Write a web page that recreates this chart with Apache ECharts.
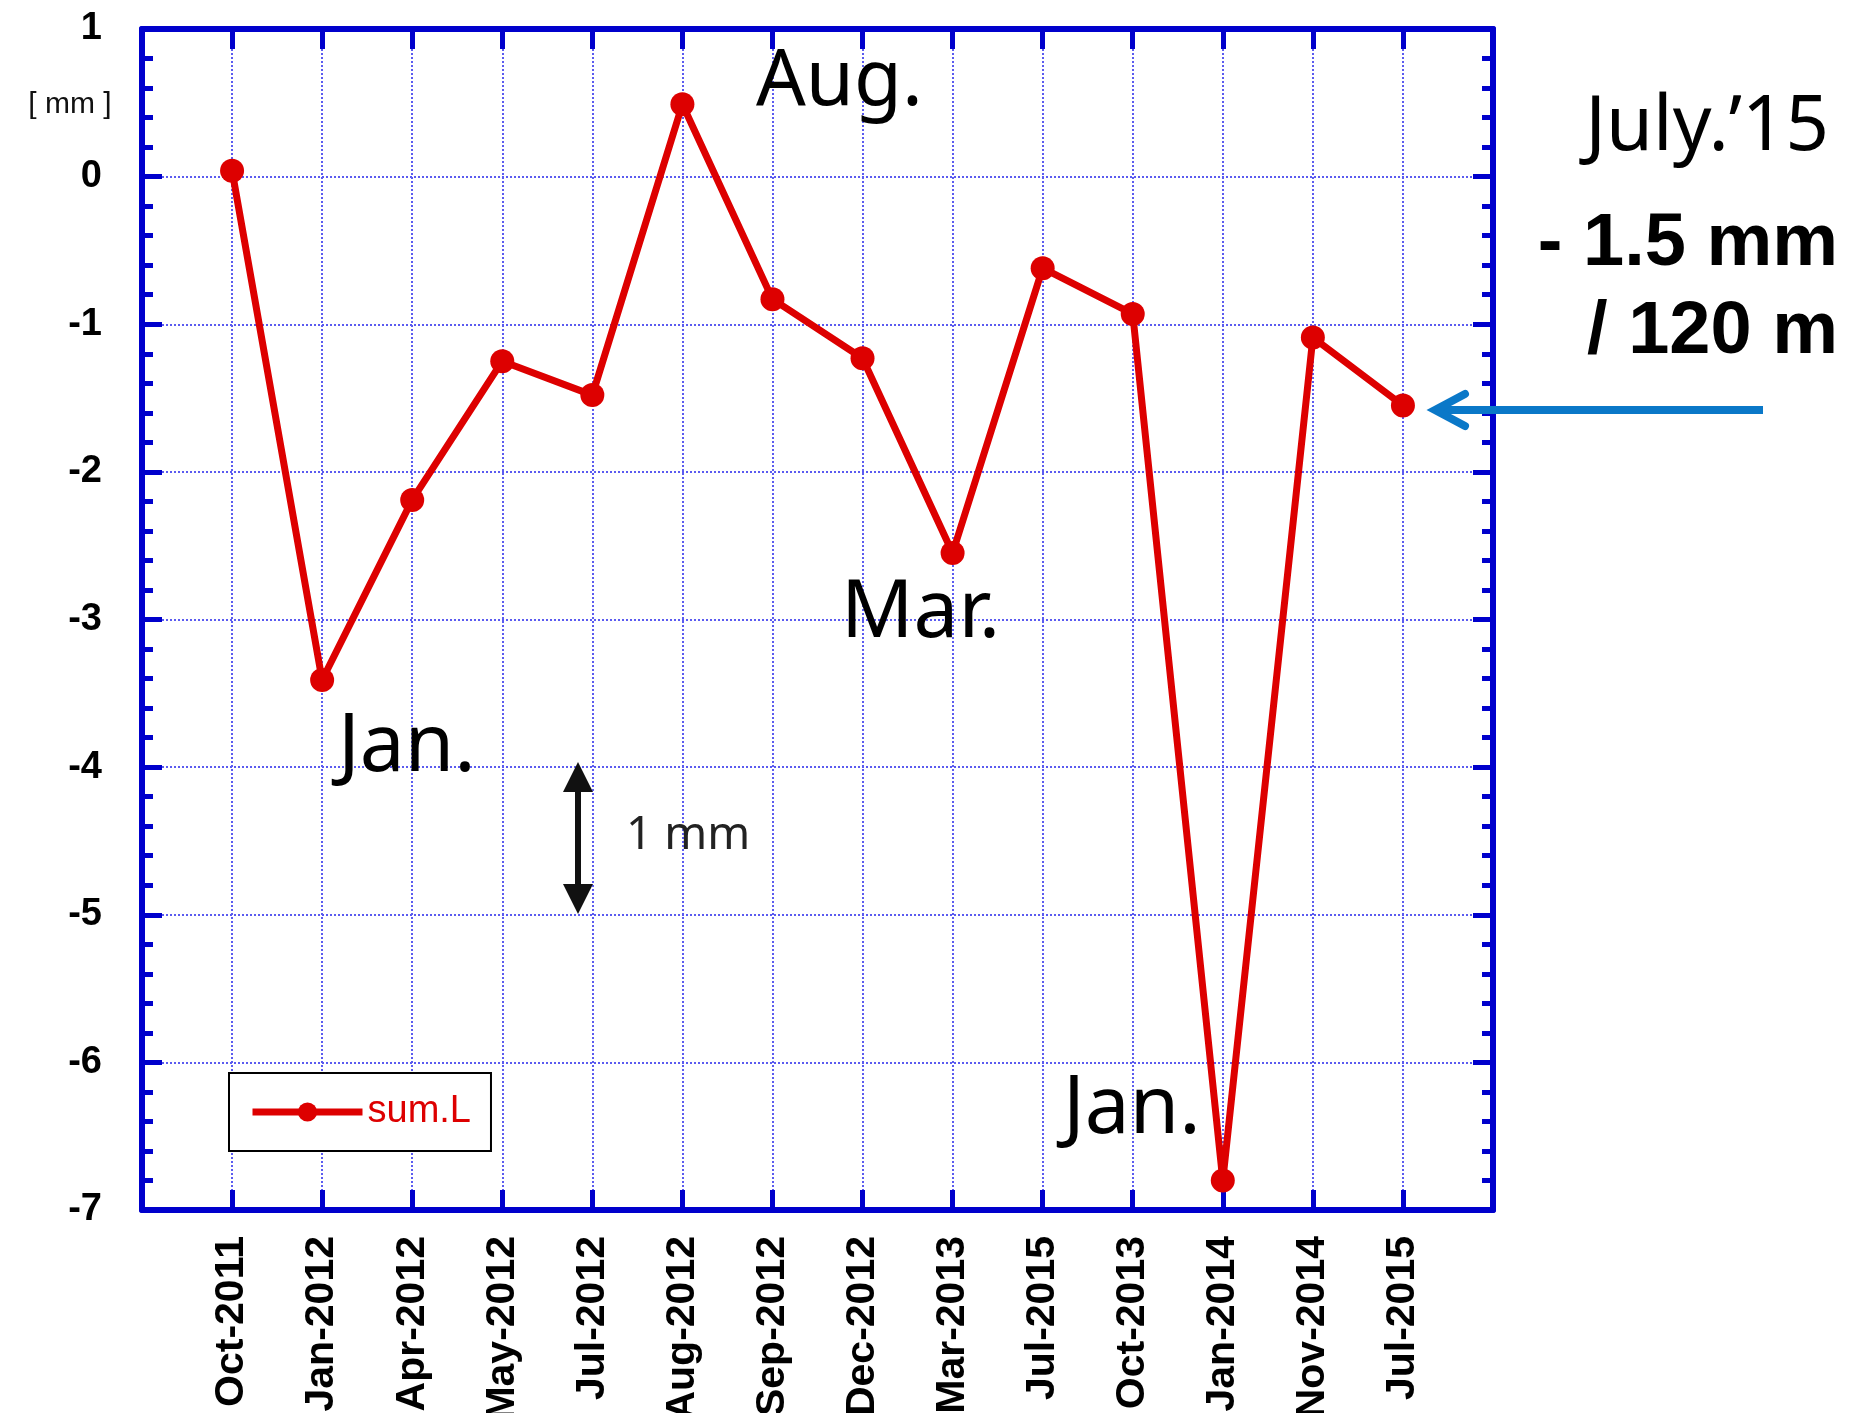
<!DOCTYPE html>
<html>
<head>
<meta charset="utf-8">
<script src="https://cdn.jsdelivr.net/npm/echarts@6/dist/echarts.min.js"></script>
<style>
  html, body { margin: 0; background: #fff; }
  #chart { width: 1862px; height: 1413px; }
</style>
</head>
<body>
<div id="chart"></div>
<script>
// measurement dates (blank slots pad the axis ends)
var categories = ['', 'Oct-2011', 'Jan-2012', 'Apr-2012', 'May-2012', 'Jul-2012', 'Aug-2012',
  'Sep-2012', 'Dec-2012', 'Mar-2013', 'Jul-2015', 'Oct-2013', 'Jan-2014', 'Nov-2014', 'Jul-2015', ''];
// sum.L [mm]
var sumL = [null, 0.04, -3.41, -2.19, -1.25, -1.48, 0.49, -0.83, -1.23, -2.55, -0.62, -0.93, -6.80, -1.09, -1.55, null];
var yMin = -7, yMax = 1;

var blue = '#0000cc';
var grid = { color: '#5b5bf0', width: 2, type: [2, 2] };
var labelFont = 'Liberation Sans';

var chart = echarts.init(document.getElementById('chart'));

function xAxis(pos, showLabel) {
  return {
    type: 'category',
    data: categories,
    boundaryGap: false,
    position: pos,
    axisLine: { onZero: false, lineStyle: { color: blue, width: 6 } },
    axisTick: { inside: true, interval: 0, length: 20, lineStyle: { color: blue, width: 5 } },
    axisLabel: {
      show: showLabel, rotate: 90, interval: 0, margin: 26,
      fontSize: 41, fontWeight: 'bold', color: '#000', fontFamily: labelFont
    },
    splitLine: { show: showLabel, interval: 0, lineStyle: grid }
  };
}
function yAxis(pos, showLabel) {
  return {
    type: 'value',
    min: yMin, max: yMax, interval: 1,
    position: pos,
    axisLine: { show: true, onZero: false, lineStyle: { color: blue, width: 6 } },
    axisTick: { show: true, inside: true, length: 20, lineStyle: { color: blue, width: 5 } },
    minorTick: { show: true, splitNumber: 5, length: 11, lineStyle: { color: blue, width: 5 } },
    axisLabel: {
      show: showLabel, margin: 40,
      fontSize: 38, fontWeight: 'bold', color: '#000', fontFamily: labelFont
    },
    splitLine: { show: showLabel, lineStyle: grid }
  };
}

function txt(s, x, y, size, align, weight, fam, color) {
  return {
    type: 'text', x: x, y: y, z: 100,
    style: {
      text: s, fill: color || '#000',
      fontSize: size, fontWeight: weight || 'normal', fontFamily: fam || 'Noto Sans',
      align: align, textAlign: align, verticalAlign: 'middle', textVerticalAlign: 'middle'
    }
  };
}

var option = {
  animation: false,
  backgroundColor: '#fff',
  grid: { left: 142, top: 29, right: 369, bottom: 203, outerBoundsMode: 'none' },
  xAxis: [xAxis('bottom', true), xAxis('top', false)],
  yAxis: [yAxis('left', true), yAxis('right', false)],
  legend: {
    left: 229, top: 1073,
    backgroundColor: '#fff', borderColor: '#000', borderWidth: 2, borderRadius: 0,
    padding: [20, 20, 20, 20],
    itemWidth: 110, itemHeight: 24,
    lineStyle: { width: 7 },
    textStyle: { color: '#dd0000', fontSize: 38, fontFamily: labelFont },
    data: ['sum.L']
  },
  series: [{
    name: 'sum.L',
    type: 'line',
    data: sumL,
    symbol: 'circle',
    symbolSize: 24,
    lineStyle: { color: '#dd0000', width: 7 },
    itemStyle: { color: '#dd0000' },
    z: 10
  }],
  graphic: [
    txt('[ mm ]', 70, 105, 30, 'center', 'normal', labelFont, '#111'),
    txt('Aug.', 756, 83, 78, 'left'),
    txt('Jan.', 338, 748, 80, 'left'),
    txt('Mar.', 841, 614, 80, 'left'),
    txt('Jan.', 1063, 1110, 80, 'left'),
    txt('July.\u201915', 1829, 128, 76, 'right'),
    txt('- 1.5 mm', 1838, 245, 74, 'right', 'bold', labelFont),
    txt('/ 120 m', 1838, 333, 74, 'right', 'bold', labelFont),
    txt('1 mm', 626, 836, 46, 'left', 'normal', 'Noto Sans', '#222'),
    // 1 mm scale arrow
    { type: 'line', z: 100, shape: { x1: 578, y1: 785, x2: 578, y2: 890 }, style: { stroke: '#111', lineWidth: 6 } },
    { type: 'polygon', z: 100, shape: { points: [[578, 762], [563, 792], [593, 792]] }, style: { fill: '#111' } },
    { type: 'polygon', z: 100, shape: { points: [[578, 914], [563, 884], [593, 884]] }, style: { fill: '#111' } },
    // blue pointer to last value
    { type: 'line', z: 100, shape: { x1: 1763, y1: 410, x2: 1438, y2: 410 }, style: { stroke: '#0a78c8', lineWidth: 8 } },
    { type: 'polyline', z: 100, shape: { points: [[1465, 394], [1435, 410], [1465, 426]] },
      style: { stroke: '#0a78c8', lineWidth: 8, lineCap: 'round', lineJoin: 'miter', fill: null } }
  ]
};
chart.setOption(option);
</script>
</body>
</html>
